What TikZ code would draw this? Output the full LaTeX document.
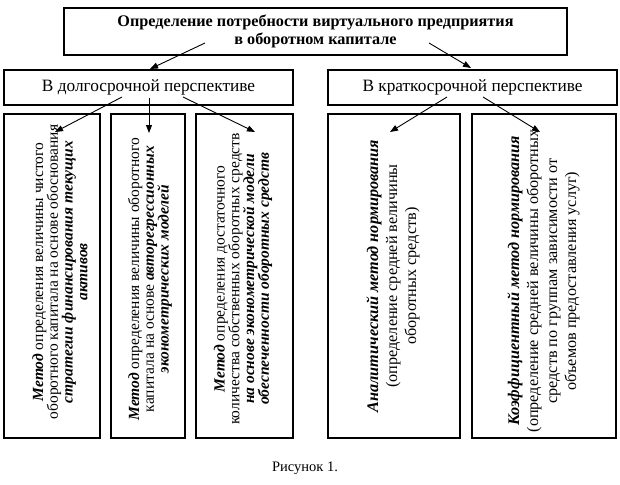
\documentclass[tikz,border=0pt]{standalone}
\usepackage{fontspec}
\setmainfont{Liberation Serif}
\usetikzlibrary{arrows.meta}
\begin{document}
\begin{tikzpicture}[x=1pt,y=-1pt,
  box/.style={draw,line width=1.1pt,inner sep=0pt},
  arr/.style={line width=0.9pt,-{Triangle[length=8pt,width=6pt]}},
  vtext/.style={rotate=90,align=center,inner sep=0pt,font=\fontsize{15.5}{14.8}\selectfont},
  vtextw/.style={rotate=90,align=center,inner sep=0pt,font=\fontsize{16.2}{19}\selectfont}]
\useasboundingbox[fill=white] (0,0) rectangle (620,484);
\newcommand{\bix}[1]{\textbf{\textit{#1}}}
% top
\node[box,minimum width=503pt,minimum height=47pt,align=center,
  font=\fontsize{16.2}{17.5}\selectfont\bfseries] (top) at (315.5,31.5)
  {Определение потребности виртуального предприятия\\в оборотном капитале};
% middle
\node[box,minimum width=289pt,minimum height=35pt,font=\fontsize{17.3}{18}\selectfont] (midL) at (148.5,87.5) {В долгосрочной перспективе};
\node[box,minimum width=289pt,minimum height=35pt,font=\fontsize{17.3}{18}\selectfont] (midR) at (472.5,87.5) {В краткосрочной перспективе};
% bottom boxes
\node[box,minimum width=96pt,minimum height=324pt] (b1) at (52,276) {};
\node[box,minimum width=74pt,minimum height=324pt] (b2) at (148,276) {};
\node[box,minimum width=97pt,minimum height=324pt] (b3) at (244.5,276) {};
\node[box,minimum width=132pt,minimum height=324pt] (b4) at (394,276) {};
\node[box,minimum width=144pt,minimum height=324pt] (b5) at (544,276) {};
% texts
\node[vtext] (t1) at (60,272) {\bix{Метод} определения величины чистого\\
  оборотного капитала на основе обоснования\\
  \bix{стратегии финансирования текущих}\\
  \bix{активов}};
\node[vtext] (t2) at (150,279) {\bix{Метод} определения величины оборотного\\
  капитала на основе \bix{авторегрессионных}\\
  \bix{эконометрических моделей}};
\node[vtext] (t3) at (243,279) {\bix{Метод} определения достаточного\\
  количества собственных оборотных средств\\
  \bix{на основе эконометрической модели}\\
  \bix{обеспеченности оборотных средств}};
\node[vtextw] (t4) at (393,276) {\bix{Аналитический метод нормирования}\\
  (определение средней величины\\
  оборотных средств)};
\node[vtextw] (t5) at (543.5,281) {\bix{Коэффициентный метод нормирования}\\
  (определение средней величины оборотных\\
  средств по группам зависимости от\\
  объемов предоставления услуг)};
% caption
\node[font=\fontsize{14.5}{16}\selectfont] (cap) at (305,468) {Рисунок 1.};
% arrow coordinates
\coordinate (a1s) at (205,43); \coordinate (a1e) at (150,69);
\coordinate (a2s) at (429,43); \coordinate (a2e) at (471,68);
\coordinate (a3s) at (122,97); \coordinate (a3e) at (55,132);
\coordinate (a4s) at (149,98); \coordinate (a4e) at (149,133);
\coordinate (a5s) at (183,97); \coordinate (a5e) at (255,132);
\coordinate (a6s) at (447,97); \coordinate (a6e) at (390,132);
\coordinate (a7s) at (483,97); \coordinate (a7e) at (540,132);
\foreach \i in {1,...,7} {\draw[arr] (a\i s) -- (a\i e);}
\end{tikzpicture}
\end{document}
